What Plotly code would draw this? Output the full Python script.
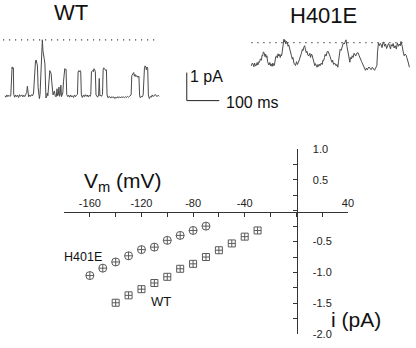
import plotly.graph_objects as go

# ---- I-V data (mV, pA) ----
V_H401E = [-160, -150, -140, -130, -120, -110, -100, -90, -80, -70]
I_H401E = [-1.05, -0.93, -0.83, -0.73, -0.63, -0.59, -0.48, -0.40, -0.32, -0.25]
V_WT = [-140, -130, -120, -110, -100, -90, -80, -70, -60, -50, -40, -30]
I_WT = [-1.49, -1.37, -1.27, -1.17, -1.07, -0.94, -0.86, -0.75, -0.64, -0.53, -0.42, -0.32]

X_TICKS = [-160, -120, -80, -40, 40]
X_LABELS = ["-160", "-120", "-80", "-40", "40"]
Y_TICKS = [-2.0, -1.5, -1.0, -0.5, 0.5, 1.0]
Y_LABELS = ["-2.0", "-1.5", "-1.0", "-0.5", "0.5", "1.0"]
X_MINOR_STEP = 20
Y_MINOR_STEP = 0.25

# ---- single-channel records: (time ms, current pA above closed level) ----
WT_TRACE = [
    (0, 0.0), (3, -0.05), (6, 0.03), (9, -0.03), (12, 0.02), (15, -0.02), (18, 0.0), (20, 0.9),
    (22, 1.03), (24, 0.97), (26, 1.0), (27, 0.05), (30, -0.05), (33, 0.03), (36, -0.03), (39, 0.02),
    (42, -0.06), (45, 0.04), (48, -0.02), (52, 0.03), (55, -0.04), (58, 0.02), (61, -0.03), (64, 0.05),
    (67, 0.12), (69, 0.34), (71, 0.05), (73, -0.04), (76, 0.03), (79, -0.02), (82, 0.04), (85, 0.0),
    (88, 0.1), (90, 0.45), (92, 1.1), (94, 1.24), (96, 1.28), (98, 1.2), (100, 1.07), (102, 0.3),
    (104, -0.08), (106, -0.1), (108, 0.05), (111, 0.8), (113, 1.48), (115, 2.0), (117, 1.6), (118, 1.55),
    (120, 1.4), (121, 1.31), (123, 1.14), (124, 0.2), (126, -0.08), (128, -0.05), (130, 0.1), (132, 0.0),
    (134, 0.4), (136, 0.7), (138, 0.9), (140, 0.85), (142, 0.79), (144, 0.5), (146, 0.28), (148, 0.03),
    (150, 0.1), (152, 0.17), (155, -0.02), (158, -0.03), (160, 0.25), (162, 0.0), (164, 0.03), (166, 0.31),
    (168, -0.02), (170, 0.05), (172, 0.38), (174, -0.03), (176, 0.02), (178, 0.1), (180, 0.5), (182, 0.93),
    (184, 0.97), (186, 0.93), (188, 0.95), (190, 0.05), (193, -0.03), (196, 0.02), (199, -0.05), (202, 0.03),
    (205, -0.04), (208, 0.0), (211, -0.06), (214, 0.03), (217, -0.03), (220, 0.02), (223, 0.05), (225, 0.85),
    (227, 0.9), (229, 0.86), (231, 0.9), (233, 0.88), (235, 0.03), (238, -0.06), (241, 0.02), (244, -0.03),
    (247, 0.04), (250, -0.02), (253, 0.03), (256, -0.04), (259, 0.02), (262, -0.02), (264, 0.05), (266, 0.86),
    (268, 0.88), (270, 0.9), (272, 0.86), (274, 0.97), (276, 0.93), (278, 0.86), (280, 0.03), (282, -0.03),
    (285, -0.05), (288, 0.03), (290, 0.62), (292, 0.0), (294, 0.03), (297, -0.02), (300, 0.05), (302, 0.93),
    (304, 1.0), (306, 0.97), (308, 0.95), (310, 0.9), (312, 0.93), (314, 0.03), (317, -0.07), (320, -0.02),
    (323, -0.05), (326, -0.08), (329, -0.03), (332, -0.07), (335, -0.04), (338, -0.1), (341, -0.05), (344, -0.08),
    (347, -0.03), (350, -0.07), (353, -0.04), (356, -0.08), (359, -0.03), (362, -0.06), (365, -0.04), (368, -0.07),
    (371, -0.03), (374, -0.06), (377, -0.02), (380, -0.05), (383, -0.02), (386, 0.0), (388, 0.03), (390, 0.72),
    (392, 0.76), (394, 0.79), (396, 0.83), (398, 0.7), (400, 0.76), (402, 0.69), (404, 0.72), (406, 0.72),
    (408, 0.66), (410, 0.69), (412, 0.7), (414, 0.03), (416, -0.07), (419, -0.02), (422, -0.04), (425, 0.03),
    (427, 0.9), (429, 1.0), (431, 1.07), (433, 1.03), (435, 0.93), (437, 1.03), (439, 0.97), (441, 0.03),
    (444, -0.1), (447, -0.03), (450, -0.05), (453, 0.03), (456, -0.03), (459, 0.02), (462, 0.05), (465, 0.0),
    (468, -0.03), (471, 0.02), (474, -0.02),
]
H401E_TRACE = [
    (0, 0.0), (3, 0.1), (5, 0.07), (8, -0.03), (10, 0.1), (13, 0.0), (15, 0.01), (18, 0.12), (20, 0.03),
    (23, 0.15), (25, 0.13), (28, 0.25), (31, 0.2), (33, 0.38), (35, 0.36), (37, 0.5), (40, 0.45), (42, 0.33),
    (44, 0.42), (46, 0.3), (48, 0.36), (50, 0.15), (52, 0.05), (54, 0.03), (57, 0.12), (59, 0.0), (61, 0.07),
    (64, -0.02), (66, 0.1), (69, 0.0), (71, 0.03), (73, 0.2), (75, 0.32), (78, 0.36), (80, 0.28), (82, 0.43),
    (84, 0.35), (86, 0.41), (89, 0.3), (91, 0.4), (93, 0.36), (95, 0.5), (98, 0.7), (100, 0.95), (102, 0.85),
    (103, 0.93), (106, 0.78), (108, 0.88), (111, 0.82), (113, 0.7), (115, 0.75), (118, 0.64), (120, 0.5),
    (123, 0.38), (126, 0.24), (128, 0.3), (131, 0.1), (134, 0.01), (136, 0.01), (139, 0.15), (142, 0.05),
    (145, 0.13), (148, 0.22), (150, 0.3), (152, 0.36), (154, 0.45), (157, 0.59), (159, 0.55), (161, 0.66),
    (164, 0.72), (166, 0.6), (169, 0.47), (171, 0.52), (174, 0.38), (177, 0.36), (180, 0.45), (182, 0.3),
    (185, 0.42), (187, 0.38), (190, 0.25), (192, 0.15), (195, 0.01), (197, 0.08), (200, -0.05), (202, -0.05),
    (205, 0.05), (207, -0.02), (210, 0.06), (212, 0.01), (215, 0.1), (218, 0.05), (220, 0.2), (222, 0.18),
    (225, 0.3), (227, 0.41), (230, 0.35), (233, 0.5), (236, 0.52), (239, 0.38), (242, 0.34), (245, 0.22),
    (248, 0.13), (250, 0.2), (253, 0.05), (256, 0.1), (258, 0.07), (261, 0.0), (263, 0.05), (266, -0.05),
    (268, 0.15), (270, 0.45), (273, 0.59), (276, 0.55), (279, 0.72), (283, 0.82), (286, 0.78), (289, 0.9),
    (291, 0.93), (294, 0.7), (296, 0.55), (298, 0.47), (300, 0.25), (303, 0.13), (305, 0.3), (308, 0.25),
    (310, 0.36), (313, 0.3), (316, 0.45), (318, 0.41), (321, 0.35), (324, 0.45), (328, 0.47), (331, 0.38),
    (333, 0.3), (336, 0.24), (339, 0.15), (341, 0.1), (344, 0.01), (347, -0.05), (351, -0.16), (354, -0.08),
    (357, -0.14), (359, -0.08), (362, -0.04), (365, -0.1), (369, -0.13), (372, -0.05), (375, -0.12),
    (379, -0.16), (382, -0.08), (386, 0.01), (388, 0.5), (391, 0.82), (394, 0.72), (397, 0.8), (399, 0.76),
    (402, 0.65), (405, 0.85), (407, 0.84), (410, 0.7), (413, 0.78), (416, 0.62), (419, 0.7), (422, 0.8),
    (425, 0.72), (428, 0.6), (430, 0.76), (433, 0.7), (436, 0.8), (439, 0.64), (442, 0.72), (446, 0.6),
    (449, 0.82), (452, 0.7), (455, 0.78), (458, 0.72), (460, 0.87), (462, 0.8), (464, 0.7), (467, 0.5),
    (470, 0.36), (473, 0.42), (476, 0.38), (478, 0.3), (481, 0.2), (483, 0.1), (486, -0.05),
]
WT_OPEN_LEVEL = 2.0      # pA, dotted reference
H401E_OPEN_LEVEL = 0.83  # pA, dotted reference
SCALE_T = 100            # ms
SCALE_I = 1              # pA

# ---- layout constants (pixel geometry of the figure) ----
W, H = 416, 348
FONT = "Liberation Sans, Arial, sans-serif"
INK = "#333333"
TRACE_INK = "#4a4a4a"
MARK_INK = "#5a5a5a"
MS_PER_PX = 1 / 0.33
PA_PER_PX = 1 / 29.0
TOP_H = 116          # height in px of the record strip
BASE_PX = 93         # px row used as 0 pA in the record strip


def px_x(x):
    return x / W


def px_y(y):
    return 1 - y / H


fig = go.Figure()

# ---- I-V relation ----
fig.add_trace(go.Scatter(
    x=V_H401E, y=I_H401E, mode="markers", name="H401E",
    marker=dict(symbol="circle-cross-open", size=8, color=MARK_INK, line=dict(width=1)),
    xaxis="x", yaxis="y",
))
fig.add_trace(go.Scatter(
    x=V_WT, y=I_WT, mode="markers", name="WT",
    marker=dict(symbol="square-cross-open", size=7, color=MARK_INK, line=dict(width=1)),
    xaxis="x", yaxis="y",
))


# ---- single-channel records in a strip with scale ms / pA ----
def place(trace, t0_px, base_px):
    t0 = t0_px * MS_PER_PX
    i0 = (BASE_PX - base_px) * PA_PER_PX
    ts = [t0 + t for t, _ in trace]
    cs = [i0 + c for _, c in trace]
    return ts, cs, t0, i0


wt_t, wt_i, wt_t0, wt_i0 = place(WT_TRACE, 5, 93)
h_t, h_i, h_t0, h_i0 = place(H401E_TRACE, 255, 62)

dotted = dict(color="#444444", width=1.2, dash="1.2px,4.8px")
fig.add_trace(go.Scatter(x=[wt_t0 - 6, wt_t0 + 460], y=[wt_i0 + WT_OPEN_LEVEL] * 2, mode="lines",
                         line=dotted, xaxis="x2", yaxis="y2"))
fig.add_trace(go.Scatter(x=[h_t0, h_t0 + 476], y=[h_i0 + H401E_OPEN_LEVEL] * 2, mode="lines",
                         line=dotted, xaxis="x2", yaxis="y2"))
fig.add_trace(go.Scatter(x=wt_t, y=wt_i, mode="lines", line=dict(color=TRACE_INK, width=1),
                         xaxis="x2", yaxis="y2"))
fig.add_trace(go.Scatter(x=h_t, y=h_i, mode="lines", line=dict(color=TRACE_INK, width=1),
                         xaxis="x2", yaxis="y2"))

# scale bar
sb_t0 = 189.5 * MS_PER_PX
sb_i0 = (BASE_PX - 98) * PA_PER_PX
fig.add_trace(go.Scatter(
    x=[sb_t0, sb_t0, sb_t0 + SCALE_T], y=[sb_i0 + SCALE_I, sb_i0, sb_i0],
    mode="lines", line=dict(color="#222222", width=1), xaxis="x2", yaxis="y2",
))

strip_range_x = [0, W * MS_PER_PX]
strip_range_y = [-(TOP_H - BASE_PX) * PA_PER_PX, BASE_PX * PA_PER_PX]

tick_font = dict(family=FONT, size=11, color="#222222")

fig.update_layout(
    width=W, height=H,
    margin=dict(l=0, r=0, t=0, b=0),
    paper_bgcolor="white", plot_bgcolor="rgba(0,0,0,0)",
    showlegend=False,
    font=dict(family=FONT, color="#222222"),
    xaxis=dict(
        domain=[px_x(65), px_x(353)], range=[-180, 40],
        anchor="free", position=px_y(213), side="top",
        showline=True, linecolor=INK, linewidth=1,
        ticks="inside", ticklen=4, tickcolor=INK, tickwidth=1,
        tickmode="array", tickvals=X_TICKS, ticktext=X_LABELS, tickfont=tick_font,
        minor=dict(tick0=0, dtick=X_MINOR_STEP, ticks="inside", ticklen=4,
                   tickcolor=INK, tickwidth=1, showgrid=False),
        showgrid=False, zeroline=False,
    ),
    yaxis=dict(
        domain=[px_y(340), px_y(148)], range=[-2.0, 1.0],
        anchor="free", position=px_x(301), side="right",
        showline=True, linecolor=INK, linewidth=1,
        ticks="inside", ticklen=4, tickcolor=INK, tickwidth=1,
        tickmode="array", tickvals=Y_TICKS, ticktext=Y_LABELS, tickfont=tick_font,
        minor=dict(tick0=0, dtick=Y_MINOR_STEP, ticks="inside", ticklen=4,
                   tickcolor=INK, tickwidth=1, showgrid=False),
        ticklabelstandoff=13,
        showgrid=False, zeroline=False,
    ),
    xaxis2=dict(domain=[0, 1], range=strip_range_x, visible=False, anchor="y2"),
    yaxis2=dict(domain=[px_y(TOP_H), 1], range=strip_range_y, visible=False, anchor="x2"),
)

ann = [
    dict(text="WT", x=px_x(72), y=px_y(7), size=22),
    dict(text="H401E", x=px_x(328), y=px_y(10), size=22),
    dict(text="1 pA", x=px_x(210), y=px_y(73), size=16),
    dict(text="100 ms", x=px_x(256), y=px_y(100), size=16),
    dict(text="V<sub>m</sub> (mV)", x=px_x(125), y=px_y(182), size=21),
    dict(text="i (pA)", x=px_x(361), y=px_y(325), size=21),
    dict(text="H401E", x=px_x(84), y=px_y(260), size=12.5),
    dict(text="WT", x=px_x(163), y=px_y(306.5), size=13),
]
for a in ann:
    fig.add_annotation(
        text=a["text"], x=a["x"], y=a["y"], xref="paper", yref="paper",
        xanchor="center", yanchor="middle", showarrow=False,
        font=dict(family=FONT, size=a["size"], color="#111111"),
    )

fig.write_html("out.html")
